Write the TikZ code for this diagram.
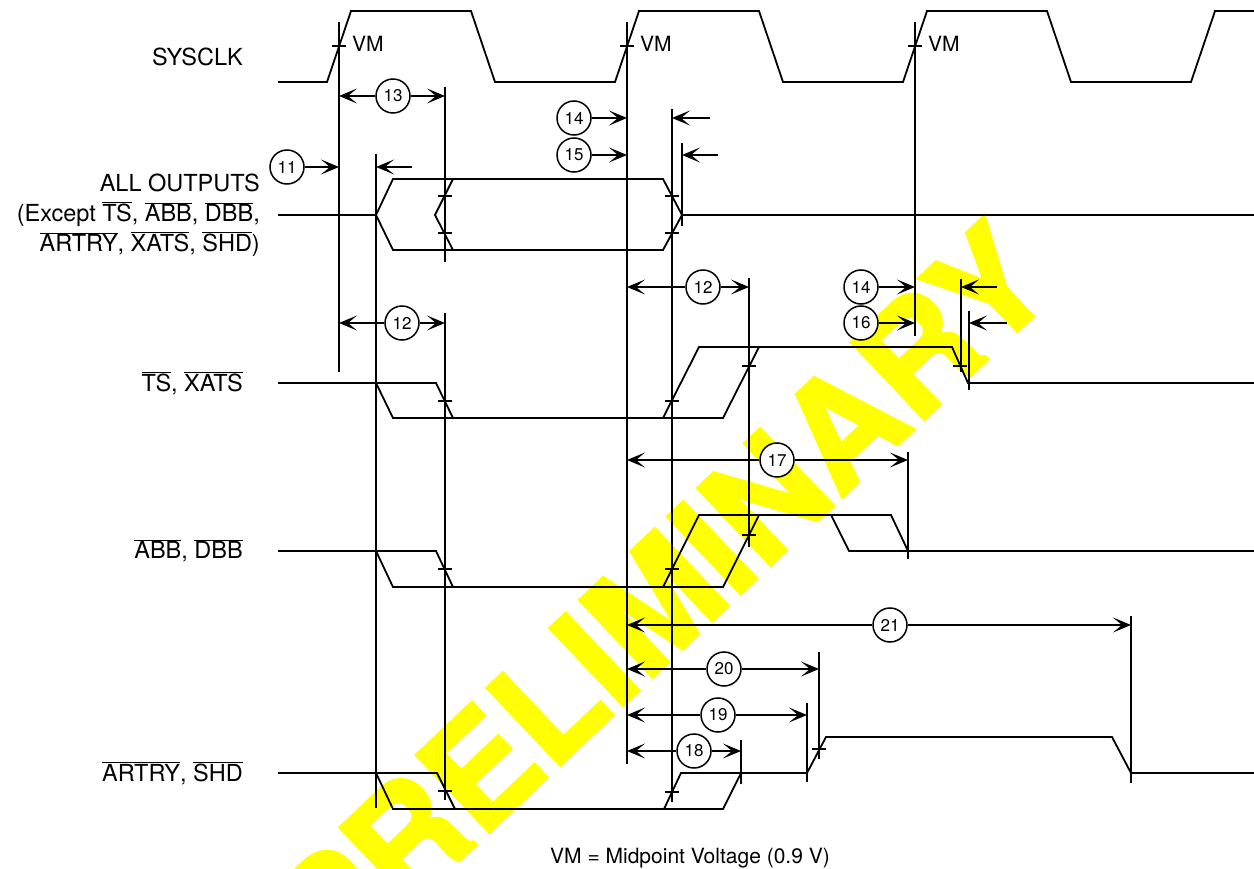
\documentclass[tikz,border=0pt]{standalone}
\usepackage{fontspec}
\setmainfont{TeX Gyre Heros}
\newfontfamily\wmfont[FakeBold=2]{TeX Gyre Heros Bold}
\usetikzlibrary{arrows.meta}
\newcommand{\ovl}[1]{$\overline{\hbox{#1}}$}

\begin{document}
\begin{tikzpicture}[x=1pt,y=-1pt,
    sig/.style={line width=1.8pt},
    vline/.style={line width=1.6pt},
    num/.style={draw,circle,line width=1.5pt,minimum size=34pt,inner sep=0pt,fill=white,font=\fontsize{17}{17}\selectfont},
    dim/.style={line width=1.6pt,-{Stealth[length=18pt,width=15pt,inset=9pt]}},
    lbl/.style={anchor=east,inner sep=0pt,font=\fontsize{23.5}{30}\selectfont}]
    \useasboundingbox (0,0) rectangle (1254,869);
    % watermark
    \begin{scope}
        \clip (0,0) rectangle (1254,869);
        \node[rotate=43.5,inner sep=0pt,text={rgb,255:red,255; green,255; blue,0},font=\fontsize{146}{146}\wmfont] (wm) at (660,597) {PRELIMINARY};
    \end{scope}

    % timing edges
    \foreach \n/\x/\t/\b in {v1/339/22/372, v2/627/22/764, v3/915/22/336,
        ta/376/154/808, tb/445/87/262, tb2/445/313/800, tc/672/109/802,
        td/682/143/226, te/749/278/547, tf/908/452/559, tg/961/279/372,
        th/969/311/390, ti/741/740/784, tj/807/703/782, tk/819/652/759,
        tm/1131/616/783}
    {
        \coordinate (\n) at (\x,\t);
        \draw[vline] (\n) -- (\x,\b);
    }

    % signals
    \draw[sig] (278,82) -- (327,82) -- (351,11) -- (471,11) -- (495,82) -- (615,82) -- (639,11) -- (759,11) -- (783,82) -- (903,82) -- (927,11) -- (1047,11) -- (1071,82) -- (1191,82) -- (1215,11) -- (1254,11);
    \draw[sig] (278,215) -- (376,215) -- (393,179) -- (663,179) -- (682,215) -- (663,250) -- (393,250) -- (376,215);
    \draw[sig] (682,215) -- (1254,215);
    \draw[sig] (453,179) -- (435,215) -- (453,250);
    \draw[sig] (278,383) -- (436,383) -- (453,418);
    \draw[sig] (376,383) -- (393,418) -- (723,418) -- (759,347);
    \draw[sig] (663,418) -- (699,347) -- (952,347) -- (968,383) -- (1254,383);
    \draw[sig] (278,551) -- (436,551) -- (453,587);
    \draw[sig] (376,551) -- (393,587) -- (723,587) -- (759,515);
    \draw[sig] (663,587) -- (699,515) -- (891,515) -- (908,551) -- (1254,551);
    \draw[sig] (831,515) -- (849,551) -- (908,551);
    \draw[sig] (278,773) -- (437,773) -- (455,809);
    \draw[sig] (376,773) -- (393,809) -- (723,809) -- (741,773) -- (807,773) -- (826,737) -- (1112,737) -- (1131,773) -- (1254,773);
    \draw[sig] (664,809) -- (681,773) -- (741,773);

    % crossing marks
    \foreach \x/\y in {339/46, 627/46, 915/46, 445/196, 445/233, 672/196, 672/233,
        445/401, 672/401, 749/366, 960/366, 445/569, 672/569, 749/535,
        445/791, 672/792, 819/749}
        \draw[vline] (\x-7,\y) -- (\x+7,\y);
    \foreach \x in {339,627,915}
        \node[anchor=west,inner sep=0pt,font=\fontsize{21}{21}\selectfont] at (\x+13,44) {VM};

    % parameter numbers
    \node[num] (c11) at (287,167) {11};
    \node[num] (c13) at (393,96) {13};
    \node[num] (c14a) at (574,118) {14};
    \node[num] (c15) at (574,155) {15};
    \node[num] (c12a) at (402,323) {12};
    \node[num] (c12b) at (703,287) {12};
    \node[num] (c14b) at (861,287) {14};
    \node[num] (c16) at (861,323) {16};
    \node[num] (c17) at (777,460) {17};
    \node[num] (c21) at (890,625) {21};
    \node[num] (c20) at (724,669) {20};
    \node[num] (c19) at (718,715) {19};
    \node[num] (c18) at (694,751) {18};

    \draw[dim] (c13) -- (c13 -| v1);
    \draw[dim] (c13) -- (c13 -| tb);
    \draw[dim] (c11) -- (c11 -| v1);
    \draw[dim] ([xshift=36pt]c11 -| ta) -- (c11 -| ta);
    \draw[dim] (c14a) -- (c14a -| v2);
    \draw[dim] ([xshift=38pt]c14a -| tc) -- (c14a -| tc);
    \draw[dim] (c15) -- (c15 -| v2);
    \draw[dim] ([xshift=36pt]c15 -| td) -- (c15 -| td);
    \draw[dim] (c12a) -- (c12a -| v1);
    \draw[dim] (c12a) -- (c12a -| tb2);
    \draw[dim] (c12b) -- (c12b -| v2);
    \draw[dim] (c12b) -- (c12b -| te);
    \draw[dim] (c14b) -- (c14b -| v3);
    \draw[dim] ([xshift=36pt]c14b -| tg) -- (c14b -| tg);
    \draw[dim] (c16) -- (c16 -| v3);
    \draw[dim] ([xshift=38pt]c16 -| th) -- (c16 -| th);
    \draw[dim] (c17) -- (c17 -| v2);
    \draw[dim] (c17) -- (c17 -| tf);
    \draw[dim] (c21) -- (c21 -| v2);
    \draw[dim] (c21) -- (c21 -| tm);
    \draw[dim] (c20) -- (c20 -| v2);
    \draw[dim] (c20) -- (c20 -| tk);
    \draw[dim] (c19) -- (c19 -| v2);
    \draw[dim] (c19) -- (c19 -| tj);
    \draw[dim] (c18) -- (c18 -| v2);
    \draw[dim] (c18) -- (c18 -| ti);

    % signal names
    \node[lbl] (lclk) at (243,57) {SYSCLK};
    \node[lbl,align=right] (lall) at (260,215) {ALL OUTPUTS\\(Except \ovl{TS}, \ovl{ABB}, \ovl{DBB},\\\ovl{ARTRY}, \ovl{XATS}, \ovl{SHD})};
    \node[lbl] (lts) at (243,383) {\ovl{TS}, \ovl{XATS}};
    \node[lbl] (labb) at (243,551) {\ovl{ABB}, \ovl{DBB}};
    \node[lbl] (lart) at (243,773) {\ovl{ARTRY}, \ovl{SHD}};
    \node[font=\fontsize{21}{21}\selectfont] (note) at (690,858) {VM = Midpoint Voltage (0.9 V)};
\end{tikzpicture}
\end{document}
